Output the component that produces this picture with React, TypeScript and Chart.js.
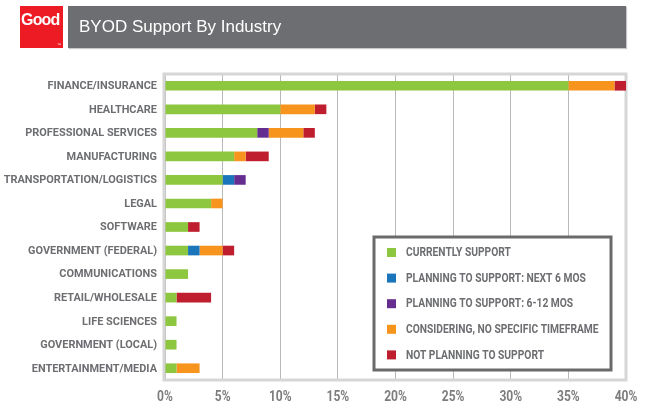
import React, { useEffect, useRef } from "react";
import { Chart, registerables } from "chart.js";

Chart.register(...registerables);

const categories = [
  "FINANCE/INSURANCE",
  "HEALTHCARE",
  "PROFESSIONAL SERVICES",
  "MANUFACTURING",
  "TRANSPORTATION/LOGISTICS",
  "LEGAL",
  "SOFTWARE",
  "GOVERNMENT (FEDERAL)",
  "COMMUNICATIONS",
  "RETAIL/WHOLESALE",
  "LIFE SCIENCES",
  "GOVERNMENT (LOCAL)",
  "ENTERTAINMENT/MEDIA",
];
const currentlySupport = [35, 10, 8, 6, 5, 4, 2, 2, 2, 1, 1, 1, 1];
const planningNext6 = [0, 0, 0, 0, 1, 0, 0, 1, 0, 0, 0, 0, 0];
const planning6to12 = [0, 0, 1, 0, 1, 0, 0, 0, 0, 0, 0, 0, 0];
const considering = [4, 3, 3, 1, 0, 1, 0, 2, 0, 0, 0, 0, 2];
const notPlanning = [1, 1, 1, 2, 0, 0, 1, 1, 0, 3, 0, 0, 0];
const seriesNames = [
  "CURRENTLY SUPPORT",
  "PLANNING TO SUPPORT: NEXT 6 MOS",
  "PLANNING TO SUPPORT: 6-12 MOS",
  "CONSIDERING, NO SPECIFIC TIMEFRAME",
  "NOT PLANNING TO SUPPORT",
];
const xMax = 40;
const xStep = 5;

const COLORS = ["#8dc63f", "#1b75bb", "#662d91", "#f7941d", "#be1e2d"];
const FONT = "Roboto, 'Liberation Sans', sans-serif";
const TEXT_GRAY = "#6d6e71";

function condensedText(ctx: any, text: string, x: number, y: number, align: string, sx: number) {
  ctx.save();
  ctx.translate(x, y);
  ctx.scale(sx, 1);
  ctx.textAlign = align;
  ctx.fillText(text, 0, 0);
  ctx.restore();
}

const framePlugin = {
  id: "frameAndLegend",
  beforeDatasetsDraw(chart: any) {
    const { ctx, chartArea } = chart;
    ctx.save();
    ctx.strokeStyle = "#d6d6d6";
    ctx.lineWidth = 3;
    ctx.strokeRect(chartArea.left - 1, chartArea.top, chartArea.right - chartArea.left + 1, chartArea.bottom - chartArea.top);
    ctx.restore();
  },
  afterDraw(chart: any) {
    const { ctx, chartArea } = chart;
    const xs = chart.scales.x;
    const ys = chart.scales.y;
    ctx.save();
    // category labels
    ctx.font = `bold 11.5px ${FONT}`;
    ctx.fillStyle = TEXT_GRAY;
    ctx.textBaseline = "middle";
    chart.data.labels.forEach((lab: string, i: number) => {
      condensedText(ctx, lab, chartArea.left - 8, ys.getPixelForTick(i) + 0.5, "right", 0.95);
    });
    // x tick labels
    ctx.font = `bold 14px ${FONT}`;
    ctx.fillStyle = "#7d7d7d";
    xs.ticks.forEach((t: any, i: number) => {
      condensedText(ctx, `${t.value}%`, xs.getPixelForTick(i), chartArea.bottom + 17, "center", 0.86);
    });
    // legend
    const right = chartArea.right - 15;
    const bottom = chartArea.bottom - 10;
    const w = 237;
    const h = 133;
    const left = right - w;
    const top = bottom - h;
    ctx.fillStyle = "#ffffff";
    ctx.fillRect(left, top, w, h);
    ctx.strokeStyle = "#6a6a6a";
    ctx.lineWidth = 3;
    ctx.strokeRect(left, top, w, h);
    ctx.font = `bold 12.5px ${FONT}`;
    ctx.textBaseline = "middle";
    chart.data.datasets.forEach((ds: any, i: number) => {
      const cy = top + 15.5 + i * 25.6;
      ctx.fillStyle = ds.backgroundColor;
      ctx.fillRect(left + 13, cy - 4.5, 9, 9);
      ctx.fillStyle = TEXT_GRAY;
      condensedText(ctx, ds.label, left + 32, cy + 0.5, "left", 0.82);
    });
    ctx.restore();
  },
};

export default function App() {
  const ref = useRef<HTMLCanvasElement | null>(null);

  useEffect(() => {
    const series = [currentlySupport, planningNext6, planning6to12, considering, notPlanning];
    const chart = new Chart(ref.current as HTMLCanvasElement, {
      type: "bar",
      data: {
        labels: categories,
        datasets: series.map((d, i) => ({
          label: seriesNames[i],
          data: d,
          backgroundColor: COLORS[i],
          borderWidth: 0,
          barPercentage: 0.41,
          categoryPercentage: 1,
        })),
      },
      options: {
        indexAxis: "y",
        responsive: false,
        animation: false,
        layout: { padding: { top: 74, right: 26, left: 0, bottom: 0 } },
        plugins: { legend: { display: false }, tooltip: { enabled: false } },
        scales: {
          x: {
            stacked: true,
            min: 0,
            max: xMax,
            ticks: {
              stepSize: xStep,
              color: "transparent",
              font: { size: 14 },
              callback: (v: any) => `${v}%`,
            },
            grid: { color: "#b9b9b9", lineWidth: 1, drawTicks: false },
            border: { display: false },
            afterFit: (s: any) => {
              s.height = 25;
            },
          },
          y: {
            stacked: true,
            ticks: { color: "transparent", font: { size: 11 } },
            grid: { display: false, drawTicks: false },
            border: { display: false },
            afterFit: (s: any) => {
              s.width = 165;
            },
          },
        },
      },
      plugins: [framePlugin],
    } as any);
    return () => chart.destroy();
  }, []);

  return (
    <div style={{ position: "fixed", left: 0, top: 0, width: 652, height: 405, background: "#fff" }}>
      <canvas ref={ref} width={652} height={405} style={{ position: "absolute", left: 0, top: 0 }} />
      <div
        style={{
          position: "absolute",
          left: 20,
          top: 6,
          width: 43,
          height: 42,
          background: "#ed1c24",
        }}
      >
        <div
          style={{
            position: "absolute",
            left: 1,
            top: 6,
            color: "#fff",
            fontFamily: "'Liberation Sans', Arial, sans-serif",
            fontWeight: "bold",
            fontSize: 16,
            letterSpacing: -0.8,
            lineHeight: "16px",
          }}
        >
          Good
        </div>
        <div
          style={{
            position: "absolute",
            right: 2,
            bottom: 1,
            color: "#fff",
            fontSize: 4,
            fontFamily: "'Liberation Sans', sans-serif",
            lineHeight: "4px",
          }}
        >
          ™
        </div>
      </div>
      <div
        style={{
          position: "absolute",
          left: 68,
          top: 6,
          width: 558,
          height: 42,
          background: "#6d6e71",
          boxShadow: "1px 1px 1px #c8c8c8",
        }}
      >
        <div
          style={{
            position: "absolute",
            left: 11,
            top: 0,
            height: 42,
            lineHeight: "42px",
            color: "#fff",
            fontFamily: "'Liberation Sans', Arial, sans-serif",
            fontSize: 17,
          }}
        >
          BYOD Support By Industry
        </div>
      </div>
    </div>
  );
}
